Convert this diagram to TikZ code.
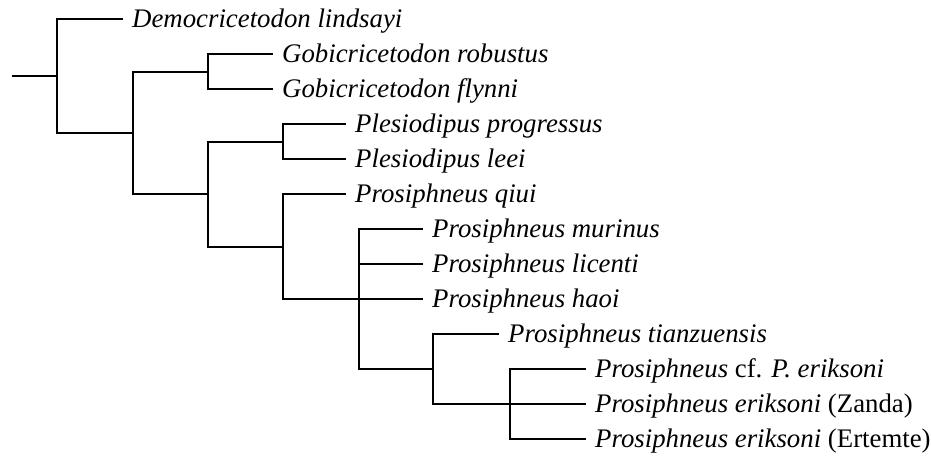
\documentclass[tikz,border=0pt]{standalone}
\usepackage{fontspec}
\setmainfont{Liberation Serif}
\begin{document}
\begin{tikzpicture}[x=1pt,y=-1pt,
  branch/.style={line width=1.8pt,line cap=rect,black},
  taxon/.style={anchor=base west,inner sep=0pt,font=\fontsize{26.8}{32}\selectfont\itshape,xshift=10pt,yshift=-8pt}]
\useasboundingbox (0,0) rectangle (931,459);
% internal node points
\coordinate (r) at (13,76);
\coordinate (A) at (57,76);
\coordinate (At) at (57,19);
\coordinate (Ab) at (57,133);
\coordinate (B) at (133,133);
\coordinate (Bt) at (133,72);
\coordinate (Bb) at (133,194);
\coordinate (C) at (208,72);
\coordinate (Ct) at (208,54);
\coordinate (Cb) at (208,89);
\coordinate (D) at (208,194);
\coordinate (Dt) at (208,142);
\coordinate (Db) at (208,247);
\coordinate (E) at (283,142);
\coordinate (Et) at (283,124);
\coordinate (Eb) at (283,159);
\coordinate (F) at (283,247);
\coordinate (Ft) at (283,194);
\coordinate (Fb) at (283,299);
\coordinate (G) at (359,299);
\coordinate (Gt) at (359,229);
\coordinate (Gm) at (359,264);
\coordinate (Gb) at (359,369);
\coordinate (H) at (433,369);
\coordinate (Ht) at (433,334);
\coordinate (Hb) at (433,404);
\coordinate (I) at (510,404);
\coordinate (It) at (510,369);
\coordinate (Ib) at (510,439);
% leaf ends
\coordinate (e1) at (122,19);
\coordinate (e2) at (272,54);
\coordinate (e3) at (272,89);
\coordinate (e4) at (345,124);
\coordinate (e5) at (345,159);
\coordinate (e6) at (345,194);
\coordinate (e7) at (422,229);
\coordinate (e8) at (422,264);
\coordinate (e9) at (422,299);
\coordinate (e10) at (498,334);
\coordinate (e11) at (585,369);
\coordinate (e12) at (585,404);
\coordinate (e13) at (585,439);
% labels
\node[taxon] (l1) at (e1) {Democricetodon lindsayi};
\node[taxon] (l2) at (e2) {Gobicricetodon robustus};
\node[taxon] (l3) at (e3) {Gobicricetodon flynni};
\node[taxon] (l4) at (e4) {Plesiodipus progressus};
\node[taxon] (l5) at (e5) {Plesiodipus leei};
\node[taxon] (l6) at (e6) {Prosiphneus qiui};
\node[taxon] (l7) at (e7) {Prosiphneus murinus};
\node[taxon] (l8) at (e8) {Prosiphneus licenti};
\node[taxon] (l9) at (e9) {Prosiphneus haoi};
\node[taxon] (l10) at (e10) {Prosiphneus tianzuensis};
\node[taxon] (l11) at (e11) {Prosiphneus \upshape cf. \itshape P. eriksoni};
\node[taxon] (l12) at (e12) {Prosiphneus eriksoni \upshape(Zanda)};
\node[taxon] (l13) at (e13) {Prosiphneus eriksoni \upshape(Ertemte)};
% branches
\draw[branch] (r) -- (A);
\draw[branch] (At) -- (Ab);
\draw[branch] (At) -- (e1);
\draw[branch] (Ab) -- (B);
\draw[branch] (Bt) -- (Bb);
\draw[branch] (Bt) -- (C);
\draw[branch] (Bb) -- (D);
\draw[branch] (Ct) -- (Cb);
\draw[branch] (Ct) -- (e2);
\draw[branch] (Cb) -- (e3);
\draw[branch] (Dt) -- (Db);
\draw[branch] (Dt) -- (E);
\draw[branch] (Db) -- (F);
\draw[branch] (Et) -- (Eb);
\draw[branch] (Et) -- (e4);
\draw[branch] (Eb) -- (e5);
\draw[branch] (Ft) -- (Fb);
\draw[branch] (Ft) -- (e6);
\draw[branch] (Fb) -- (G);
\draw[branch] (Gt) -- (Gb);
\draw[branch] (Gt) -- (e7);
\draw[branch] (Gm) -- (e8);
\draw[branch] (G) -- (e9);
\draw[branch] (Gb) -- (H);
\draw[branch] (Ht) -- (Hb);
\draw[branch] (Ht) -- (e10);
\draw[branch] (Hb) -- (I);
\draw[branch] (It) -- (Ib);
\draw[branch] (It) -- (e11);
\draw[branch] (I) -- (e12);
\draw[branch] (Ib) -- (e13);
\end{tikzpicture}
\end{document}
